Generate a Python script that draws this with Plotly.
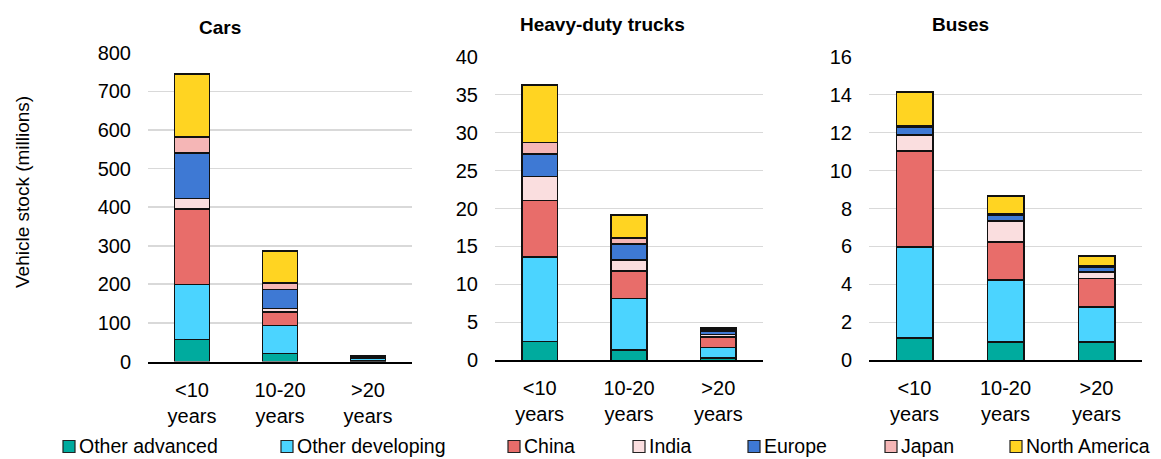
import plotly.graph_objects as go

W, H = 1161, 459

# ---------------- data ----------------
age_groups = ["<10 years", "10-20 years", ">20 years"]
age_tick_text = ["<10<br>years", "10-20<br>years", ">20<br>years"]
series_names = ["Other advanced", "Other developing", "China", "India",
                "Europe", "Japan", "North America"]
series_colors = ["#00AB9E", "#4BD4FF", "#E86D6A", "#FADEDF",
                 "#3E79D4", "#F5B6B6", "#FFD422"]
panel_titles = ["Cars", "Heavy-duty trucks", "Buses"]
y_axis_title = "Vehicle stock (millions)"

cars_other_advanced = [57, 21, 1]
cars_other_developing = [142, 72, 8]
cars_china = [196, 35, 1]
cars_india = [27, 9, 0.5]
cars_europe = [118, 50, 2]
cars_japan = [42, 17, 0.5]
cars_north_america = [163, 82, 2]

trucks_other_advanced = [2.46, 1.32, 0.30]
trucks_other_developing = [11.17, 6.82, 1.37]
trucks_china = [7.43, 3.60, 1.40]
trucks_india = [3.15, 1.45, 0.32]
trucks_europe = [2.96, 2.11, 0.44]
trucks_japan = [1.54, 0.80, 0.17]
trucks_north_america = [7.56, 3.03, 0.26]

buses_other_advanced = [1.16, 0.95, 0.95]
buses_other_developing = [4.82, 3.29, 1.85]
buses_china = [5.04, 1.98, 1.52]
buses_india = [0.86, 1.11, 0.32]
buses_europe = [0.41, 0.32, 0.25]
buses_japan = [0.09, 0.09, 0.08]
buses_north_america = [1.77, 0.91, 0.52]

cars_series = [cars_other_advanced, cars_other_developing, cars_china, cars_india,
               cars_europe, cars_japan, cars_north_america]
trucks_series = [trucks_other_advanced, trucks_other_developing, trucks_china, trucks_india,
                 trucks_europe, trucks_japan, trucks_north_america]
buses_series = [buses_other_advanced, buses_other_developing, buses_china, buses_india,
                buses_europe, buses_japan, buses_north_america]

y_max = [800, 40, 16]
y_step = [100, 5, 2]

# ---------------- layout helpers (pixel geometry) ----------------
def px_x(x):
    return x / W

def px_y(y):
    return 1 - y / H

# plot areas: (left, right, zero-line y, top y)
panels_px = [(148, 412, 361.5, 52.7), (495, 763, 360.3, 56.7), (869, 1142, 360.3, 56.7)]
title_px = [(220, 27), (602, 25), (960, 25)]

FONT = "Arial, Liberation Sans, sans-serif"

fig = go.Figure()
all_series = [cars_series, trucks_series, buses_series]
for p, data in enumerate(all_series):
    suffix = "" if p == 0 else str(p + 1)
    for name, color, vals in zip(series_names, series_colors, data):
        fig.add_trace(go.Bar(
            x=age_groups, y=vals, name=name,
            marker=dict(color=color, line=dict(color="#111111", width=1.6)),
            width=0.4, showlegend=False,
            xaxis="x" + suffix, yaxis="y" + suffix,
        ))

layout = dict(
    template="none",
    width=W, height=H,
    margin=dict(l=0, r=0, t=0, b=0, pad=0, autoexpand=False),
    barmode="stack",
    plot_bgcolor="white", paper_bgcolor="white",
    font=dict(family=FONT, size=20, color="#000000"),
    showlegend=False,
)
annotations = []
shapes = []
for p, (l, r, z, t) in enumerate(panels_px):
    suffix = "" if p == 0 else str(p + 1)
    layout["xaxis" + suffix] = dict(
        domain=[px_x(l), px_x(r)], anchor="y" + suffix,
        type="category", range=[-0.5, 2.5], automargin=False,
        tickvals=age_groups, ticktext=age_tick_text,
        showline=True, linecolor="#000000", linewidth=2,
        showgrid=False, zeroline=False, ticks="", ticklabelstandoff=9,
        tickfont=dict(size=20, family=FONT, color="#000000"),
        fixedrange=True,
    )
    layout["yaxis" + suffix] = dict(
        domain=[px_y(z), px_y(t)], anchor="x" + suffix,
        range=[0, y_max[p]], dtick=y_step[p], tick0=0, automargin=False,
        showgrid=True, gridcolor="#D9D9D9", gridwidth=1.6,
        zeroline=False, showline=False, ticks="", ticklabelstandoff=16,
        tickfont=dict(size=20, family=FONT, color="#000000"),
        fixedrange=True,
    )
    tx, ty = title_px[p]
    annotations.append(dict(
        text="<b>%s</b>" % panel_titles[p], x=px_x(tx), y=px_y(ty),
        xref="paper", yref="paper", xanchor="center", yanchor="middle",
        showarrow=False, font=dict(size=19, family=FONT, color="#000000"),
    ))

annotations.append(dict(
    text=y_axis_title, x=px_x(22), y=px_y(192), xref="paper", yref="paper",
    xanchor="center", yanchor="middle", textangle=-90, showarrow=False,
    font=dict(size=19, family=FONT, color="#000000"),
))

# legend drawn as swatches + labels
legend_marker_left = [63, 281, 508, 633, 748, 885, 1010]
legend_y = 445.5
for name, color, mx in zip(series_names, series_colors, legend_marker_left):
    shapes.append(dict(
        type="rect", xref="paper", yref="paper",
        x0=px_x(mx), x1=px_x(mx + 12), y0=px_y(legend_y + 7), y1=px_y(legend_y - 5),
        fillcolor=color, line=dict(color="#222222", width=1.2),
    ))
    annotations.append(dict(
        text=name, x=px_x(mx + 14), y=px_y(legend_y), xref="paper", yref="paper",
        xanchor="left", yanchor="middle", showarrow=False,
        font=dict(size=19.5, family=FONT, color="#000000"),
    ))

layout["annotations"] = annotations
layout["shapes"] = shapes
fig.update_layout(**layout)

fig.write_html(
    "out.html",
    config={"displayModeBar": False, "staticPlot": True},
    post_script="document.body.style.margin='0px';document.body.style.overflow='hidden';",
)
